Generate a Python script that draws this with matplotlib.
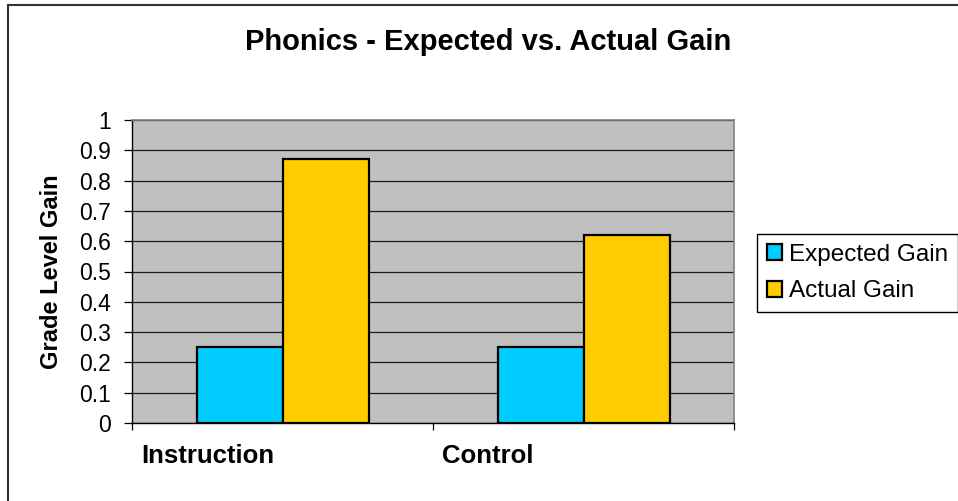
import matplotlib
matplotlib.use("Agg")
import matplotlib.pyplot as plt
from matplotlib.lines import Line2D
import numpy as np

plt.rcParams['font.family'] = ['Liberation Sans', 'DejaVu Sans']

categories = ["Instruction", "Control"]
series_names = ["Expected Gain", "Actual Gain"]
expected_gain = [0.25, 0.25]
actual_gain = [0.87, 0.62]
series_colors = ["#00CCFF", "#FFCC00"]
y_ticks = [0, 0.1, 0.2, 0.3, 0.4, 0.5, 0.6, 0.7, 0.8, 0.9, 1]

W, H = 958, 501
fig = plt.figure(figsize=(W / 100, H / 100), dpi=100)
fig.patch.set_facecolor("white")

ax = fig.add_axes([132 / W, 1 - 423 / H, 602 / W, 303 / H])
ax.set_facecolor("#C0C0C0")

x = np.arange(len(categories))
bar_w = 1 / 3.5
for vals, name, color, off in zip([expected_gain, actual_gain], series_names,
                                  series_colors, [-0.5, 0.5]):
    ax.bar(x + off * bar_w, vals, width=bar_w, color=color, edgecolor="black",
           linewidth=1.6, label=name, zorder=3)

ax.set_xlim(-0.5, len(categories) - 0.5)
ax.set_ylim(0, 1)
ax.set_yticks(y_ticks)
ax.set_yticklabels([f"{v:g}" for v in y_ticks])
ax.yaxis.grid(True, color="#1a1a1a", linewidth=0.9, zorder=1)
ax.set_axisbelow(True)

ax.set_xticks(np.arange(len(categories) + 1) - 0.5)
ax.set_xticklabels([])
ax.tick_params(axis="y", direction="out", length=6, width=0.9, pad=9,
               labelsize=16.5, colors="black")
ax.tick_params(axis="x", direction="out", length=5, width=0.9, colors="black")

for s in ["left", "bottom"]:
    ax.spines[s].set_color("black")
    ax.spines[s].set_linewidth(1.0)
for s in ["top", "right"]:
    ax.spines[s].set_color("#808080")
    ax.spines[s].set_linewidth(1.2)

# category names sit at the left of each category slot
for i, cat in enumerate(categories):
    ax.text(i - 0.5 + 0.03, -0.11, cat, ha="left", va="center",
            fontsize=18.5, fontweight="bold", transform=ax.transData,
            clip_on=False)

fig.text(488 / W, 1 - 42 / H, "Phonics - Expected vs. Actual Gain",
         ha="center", va="center", fontsize=21, fontweight="bold")
fig.text(52 / W, 1 - 271.5 / H, "Grade Level Gain", rotation=90,
         ha="center", va="center", fontsize=17, fontweight="bold")

leg = fig.legend(loc="upper left", bbox_to_anchor=(757 / W, 1 - 234 / H),
                 borderaxespad=0, fontsize=17.5, frameon=True, fancybox=False,
                 handlelength=0.62, handleheight=0.62, handletextpad=0.3,
                 labelspacing=0.6, borderpad=0.4)
leg.get_frame().set_edgecolor("black")
leg.get_frame().set_linewidth(1.0)
leg.get_frame().set_alpha(1)

# chart frame
fig.add_artist(Line2D([8 / W, 8 / W], [0, 1 - 5 / H], transform=fig.transFigure,
                      color="#333333", linewidth=1.5))
fig.add_artist(Line2D([8 / W, 1], [1 - 5 / H, 1 - 5 / H], transform=fig.transFigure,
                      color="#333333", linewidth=1.5))

fig.savefig("out.png", dpi=100, facecolor="white")
